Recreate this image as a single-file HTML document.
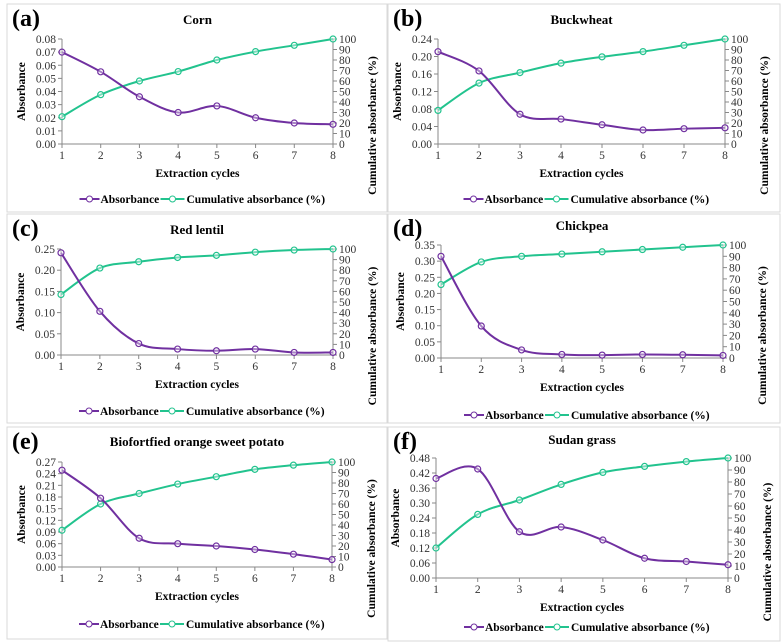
<!DOCTYPE html>
<html><head><meta charset="utf-8">
<style>
body{margin:0;background:#fff;}
svg{display:block;}
svg text{font-family:"Liberation Serif","DejaVu Serif",serif;}
</style></head>
<body>
<svg id="chart" width="781" height="643" viewBox="0 0 781 643" xmlns="http://www.w3.org/2000/svg" font-family="Liberation Serif, serif"></svg>
<script>
const cycles = [1,2,3,4,5,6,7,8];
const cumTicks = [0,10,20,30,40,50,60,70,80,90,100];
const cornAbs = [0.070,0.055,0.036,0.024,0.029,0.020,0.016,0.015];
const cornCum = [26,47,60,69,80,88,94,100];
const cornTicks = [0,0.01,0.02,0.03,0.04,0.05,0.06,0.07,0.08];
const buckAbs = [0.211,0.167,0.068,0.057,0.044,0.032,0.035,0.037];
const buckCum = [32,58,68,77,83,88,94,100];
const buckTicks = [0,0.04,0.08,0.12,0.16,0.20,0.24];
const lentAbs = [0.241,0.103,0.027,0.014,0.010,0.014,0.006,0.006];
const lentCum = [57,82,88,92,94,97,99,100];
const lentTicks = [0,0.05,0.10,0.15,0.20,0.25];
const chickAbs = [0.315,0.099,0.025,0.011,0.009,0.011,0.010,0.008];
const chickCum = [65,85,90,92,94,96,98,100];
const chickTicks = [0,0.05,0.10,0.15,0.20,0.25,0.30,0.35];
const potAbs = [0.249,0.177,0.074,0.060,0.054,0.045,0.033,0.019];
const potCum = [35,60,70,79,86,93,97,100];
const potTicks = [0,0.03,0.06,0.09,0.12,0.15,0.18,0.21,0.24,0.27];
const sudAbs = [0.398,0.436,0.185,0.204,0.152,0.079,0.066,0.053];
const sudCum = [25,53,65,78,88,93,97,100];
const sudTicks = [0,0.06,0.12,0.18,0.24,0.30,0.36,0.42,0.48];

const NS="http://www.w3.org/2000/svg";
const svg=document.getElementById('chart');
const PURPLE="#7030a0", GREEN="#22c38e";
function mk(tag,attrs,parent,text){
  const e=document.createElementNS(NS,tag);
  for(const k in attrs)e.setAttribute(k,attrs[k]);
  if(text!==undefined)e.textContent=text;
  (parent||svg).appendChild(e);return e;
}
function smooth(pts){
  let d="M"+pts[0][0]+","+pts[0][1];
  for(let i=0;i<pts.length-1;i++){
    const p0=pts[i-1]||pts[i],p1=pts[i],p2=pts[i+1],p3=pts[i+2]||p2;
    const t=1/6;
    d+=" C"+(p1[0]+(p2[0]-p0[0])*t)+","+(p1[1]+(p2[1]-p0[1])*t)+" "+(p2[0]-(p3[0]-p1[0])*t)+","+(p2[1]-(p3[1]-p1[1])*t)+" "+p2[0]+","+p2[1];
  }
  return d;
}
function panel(o){
  const g=mk('g',{});
  
  
  const box=mk('rect',{x:o.bx,y:o.by,width:o.bw,height:o.bh,fill:'none',stroke:'#d9d9d9','stroke-width':1},g);
  
  const lab=mk('text',{x:o.bx+5,y:o.by+22,'font-size':24,'font-weight':'bold'},g,'('+o.id+')');
  
  const tt=mk('text',{x:(o.x0+o.x1)/2,y:o.ty,'font-size':13,'font-weight':'bold','text-anchor':'middle'},g,o.title);
  
  const ymax=o.ticks[o.ticks.length-1];
  const X=v=>o.x0+(v-cycles[0])/(cycles[cycles.length-1]-cycles[0])*(o.x1-o.x0);
  const Y=v=>o.yb-v/ymax*(o.yb-o.yt);
  const Y2=v=>o.yb-v/100*(o.yb-o.yt);
  mk('line',{x1:o.x0,y1:o.yt,x2:o.x0,y2:o.yb,stroke:'#888'},g);
  mk('line',{x1:o.x1,y1:o.yt,x2:o.x1,y2:o.yb,stroke:'#888'},g);
  mk('line',{x1:o.x0,y1:o.yb,x2:o.x1,y2:o.yb,stroke:'#888'},g);
  o.ticks.forEach(t=>{
    const y=Y(t);
    mk('line',{x1:o.x0-4,y1:y,x2:o.x0,y2:y,stroke:'#888'},g);
    const e=mk('text',{x:o.x0-6,y:y+4,'font-size':11.5,'text-anchor':'end',fill:'#333'},g,t.toFixed(2));
    
  });
  cumTicks.forEach(t=>{
    const y=Y2(t);
    mk('line',{x1:o.x1,y1:y,x2:o.x1+4,y2:y,stroke:'#888'},g);
    const e=mk('text',{x:o.x1+6,y:y+4,'font-size':11.5,fill:'#333'},g,String(t));
    
  });
  cycles.forEach(c=>{
    const x=X(c);
    mk('line',{x1:x,y1:o.yb,x2:x,y2:o.yb+4,stroke:'#888'},g);
    const e=mk('text',{x:x,y:o.yb+15,'font-size':11.5,'text-anchor':'middle',fill:'#333'},g,String(c));
    
  });
  const xt=mk('text',{x:(o.x0+o.x1)/2,y:o.yb+33,'font-size':11.5,'font-weight':'bold','text-anchor':'middle'},g,'Extraction cycles');
  
  const ly=(o.yt+o.yb)/2, lx=o.x0-37;
  const yt=mk('text',{x:lx,y:ly,'font-size':11.5,'font-weight':'bold','text-anchor':'middle',transform:'rotate(-90 '+lx+' '+ly+')'},g,'Absorbance');
  
  const rx=o.x1+40, ry=ly+34;
  const y2t=mk('text',{x:rx,y:ry+3,'font-size':11.5,'font-weight':'bold','text-anchor':'middle',transform:'rotate(-90 '+rx+' '+ry+')'},g,'Cumulative absorbance (%)');
  
  [[o.cum,Y2,GREEN,'cumulative'],[o.abs,Y,PURPLE,'absorbance']].forEach(([vals,f,col,nm])=>{
    const pts=vals.map((v,i)=>[X(cycles[i]),f(v)]);
    const p=mk('path',{d:smooth(pts),fill:'none',stroke:col,'stroke-width':2},g);
    
    pts.forEach(pt=>{
      const c=mk('circle',{cx:pt[0],cy:pt[1],r:3,fill:'#fff','fill-opacity':0.4,stroke:col,'stroke-width':1.2},g);
      
    });
  });
  const cx=(o.x0+o.x1)/2+12;
  const lg=mk('g',{},g);
  
  const e1=mk('g',{},lg);
  mk('line',{x1:cx-130,y1:o.ly,x2:cx-110,y2:o.ly,stroke:PURPLE,'stroke-width':2},e1);
  mk('circle',{cx:cx-120,cy:o.ly,r:3,fill:'#fff',stroke:PURPLE},e1);
  mk('text',{x:cx-109,y:o.ly+4,'font-size':11.5,'font-weight':'bold'},e1,'Absorbance');
  const e2=mk('g',{},lg);
  mk('line',{x1:cx-49,y1:o.ly,x2:cx-25,y2:o.ly,stroke:GREEN,'stroke-width':2},e2);
  mk('circle',{cx:cx-37,cy:o.ly,r:3,fill:'#fff',stroke:GREEN},e2);
  mk('text',{x:cx-23,y:o.ly+4,'font-size':11.5,'font-weight':'bold'},e2,'Cumulative absorbance (%)');
}
panel({id:'a',title:'Corn',bx:7,by:4,bw:380,bh:208,x0:62,x1:333,yt:39,yb:144,ty:24,ly:199,abs:cornAbs,cum:cornCum,ticks:cornTicks});
panel({id:'b',title:'Buckwheat',bx:388,by:4,bw:392,bh:208,x0:438,x1:725,yt:39,yb:144,ty:24,ly:199,abs:buckAbs,cum:buckCum,ticks:buckTicks});
panel({id:'c',title:'Red lentil',bx:7,by:214,bw:380,bh:209,x0:61,x1:333,yt:249,yb:355,ty:234,ly:411,abs:lentAbs,cum:lentCum,ticks:lentTicks});
panel({id:'d',title:'Chickpea',bx:388,by:214,bw:392,bh:209,x0:441,x1:723,yt:245,yb:358,ty:230,ly:415,abs:chickAbs,cum:chickCum,ticks:chickTicks});
panel({id:'e',title:'Biofortfied  orange sweet potato',bx:7,by:427,bw:380,bh:212,x0:62,x1:332,yt:462,yb:567,ty:446,ly:624,abs:potAbs,cum:potCum,ticks:potTicks});
panel({id:'f',title:'Sudan grass',bx:388,by:427,bw:392,bh:214,x0:436,x1:728,yt:458,yb:578,ty:444,ly:627,abs:sudAbs,cum:sudCum,ticks:sudTicks});
</script>
</body></html>
